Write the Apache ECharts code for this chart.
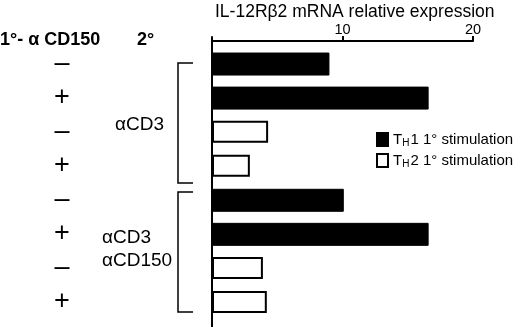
<!DOCTYPE html>
<html>
<head>
<meta charset="utf-8">
<script src="https://cdn.jsdelivr.net/npm/echarts@6/dist/echarts.min.js"></script>
<style>
  html, body { margin: 0; padding: 0; background: #fff; }
  #chart { width: 520px; height: 327px; }
</style>
</head>
<body>
<div id="chart"></div>
<script>
var rows = ['αCD3 −', 'αCD3 +', 'αCD3 −', 'αCD3 +', 'αCD3/αCD150 −', 'αCD3/αCD150 +', 'αCD3/αCD150 −', 'αCD3/αCD150 +'];
var cd150Signs = ['–', '+', '–', '+', '–', '+', '–', '+'];
var th1Values = [9.0, 16.6, '-', '-', 10.1, 16.6, '-', '-'];
var th2Values = ['-', '-', 4.3, 2.9, '-', '-', 3.9, 4.2];
var seriesNames = ['TH1 1° stimulation', 'TH2 1° stimulation'];
var xTicks = [0, 10, 20];

var chart = echarts.init(document.getElementById('chart'));
var font = 'Liberation Sans, Arial, sans-serif';

var option = {
  animation: false,
  textStyle: { fontFamily: font, color: '#000' },
  title: {
    text: 'IL-12Rβ2 mRNA relative expression',
    left: 210, top: -2,
    textStyle: { fontFamily: font, fontSize: 17.5, fontWeight: 'normal', color: '#000' }
  },
  legend: {
    orient: 'vertical',
    left: 371, top: 126,
    itemWidth: 11, itemHeight: 13, itemGap: 4,
    itemTextGap: 11,
    icon: 'rect',
    data: seriesNames,
    formatter: function (name) {
      return '{a|T}{s|H}{a|' + name.slice(2) + '}';
    },
    textStyle: {
      fontFamily: font, fontSize: 15, color: '#000',
      rich: {
        a: { fontFamily: font, fontSize: 15, color: '#000', lineHeight: 17 },
        s: { fontFamily: font, fontSize: 10, color: '#000', padding: [7, 1, 0, 0], lineHeight: 17 }
      }
    }
  },
  grid: [
    { left: 212, top: 46.5, width: 261, height: 272.5 },
    { left: 212, top: 37, width: 261, height: 290 }
  ],
  xAxis: [
    {
      gridIndex: 0, type: 'value', position: 'top', offset: 5.5,
      min: xTicks[0], max: xTicks[xTicks.length - 1], interval: 10,
      axisLine: { show: true, lineStyle: { color: '#000', width: 2 } },
      axisTick: { show: true, length: 5, lineStyle: { color: '#000', width: 2 } },
      axisLabel: {
        showMinLabel: false, margin: 4, fontSize: 14.5, color: '#000', fontFamily: font
      },
      splitLine: { show: false }
    },
    { gridIndex: 1, type: 'value', show: false, min: 0, max: 20 }
  ],
  yAxis: [
    {
      gridIndex: 0, type: 'category', inverse: true, data: rows,
      axisLine: { show: false },
      axisTick: { show: false },
      axisLabel: {
        interval: 0, margin: 150, align: 'center', fontSize: 27, color: '#000', fontFamily: font,
        formatter: function (v, i) { return cd150Signs[i]; }
      }
    },
    {
      gridIndex: 1, type: 'value', min: 0, max: 1,
      axisLine: { show: true, onZero: false, lineStyle: { color: '#000', width: 2 } },
      axisTick: { show: false }, axisLabel: { show: false }, splitLine: { show: false }
    }
  ],
  series: [
    {
      name: seriesNames[0], type: 'bar', xAxisIndex: 0, yAxisIndex: 0,
      data: th1Values, barWidth: 23, barGap: '-100%',
      itemStyle: { color: '#000', borderColor: '#000', borderWidth: 1 }
    },
    {
      name: seriesNames[1], type: 'bar', xAxisIndex: 0, yAxisIndex: 0,
      data: th2Values, barWidth: 22, barGap: '-100%',
      itemStyle: { color: '#fff', borderColor: '#000', borderWidth: 2 }
    }
  ],
  graphic: [
    { type: 'text', left: 0, top: 31, style: { text: '1°- α CD150', font: 'bold 18px ' + font, fill: '#000' } },
    { type: 'text', left: 137, top: 31, style: { text: '2°', font: 'bold 18px ' + font, fill: '#000' } },
    { type: 'text', left: 115, top: 115, style: { text: 'αCD3', font: '19px ' + font, fill: '#000' } },
    { type: 'text', left: 102, top: 228, style: { text: 'αCD3', font: '19px ' + font, fill: '#000' } },
    { type: 'text', left: 102, top: 251, style: { text: 'αCD150', font: '19px ' + font, fill: '#000' } },
    { type: 'polyline', shape: { points: [[193, 63], [178, 63], [178, 183], [193, 183]] }, style: { stroke: '#000', lineWidth: 1.5, fill: null } },
    { type: 'polyline', shape: { points: [[193, 192], [178, 192], [178, 312], [193, 312]] }, style: { stroke: '#000', lineWidth: 1.5, fill: null } }
  ]
};
chart.setOption(option);
</script>
</body>
</html>
